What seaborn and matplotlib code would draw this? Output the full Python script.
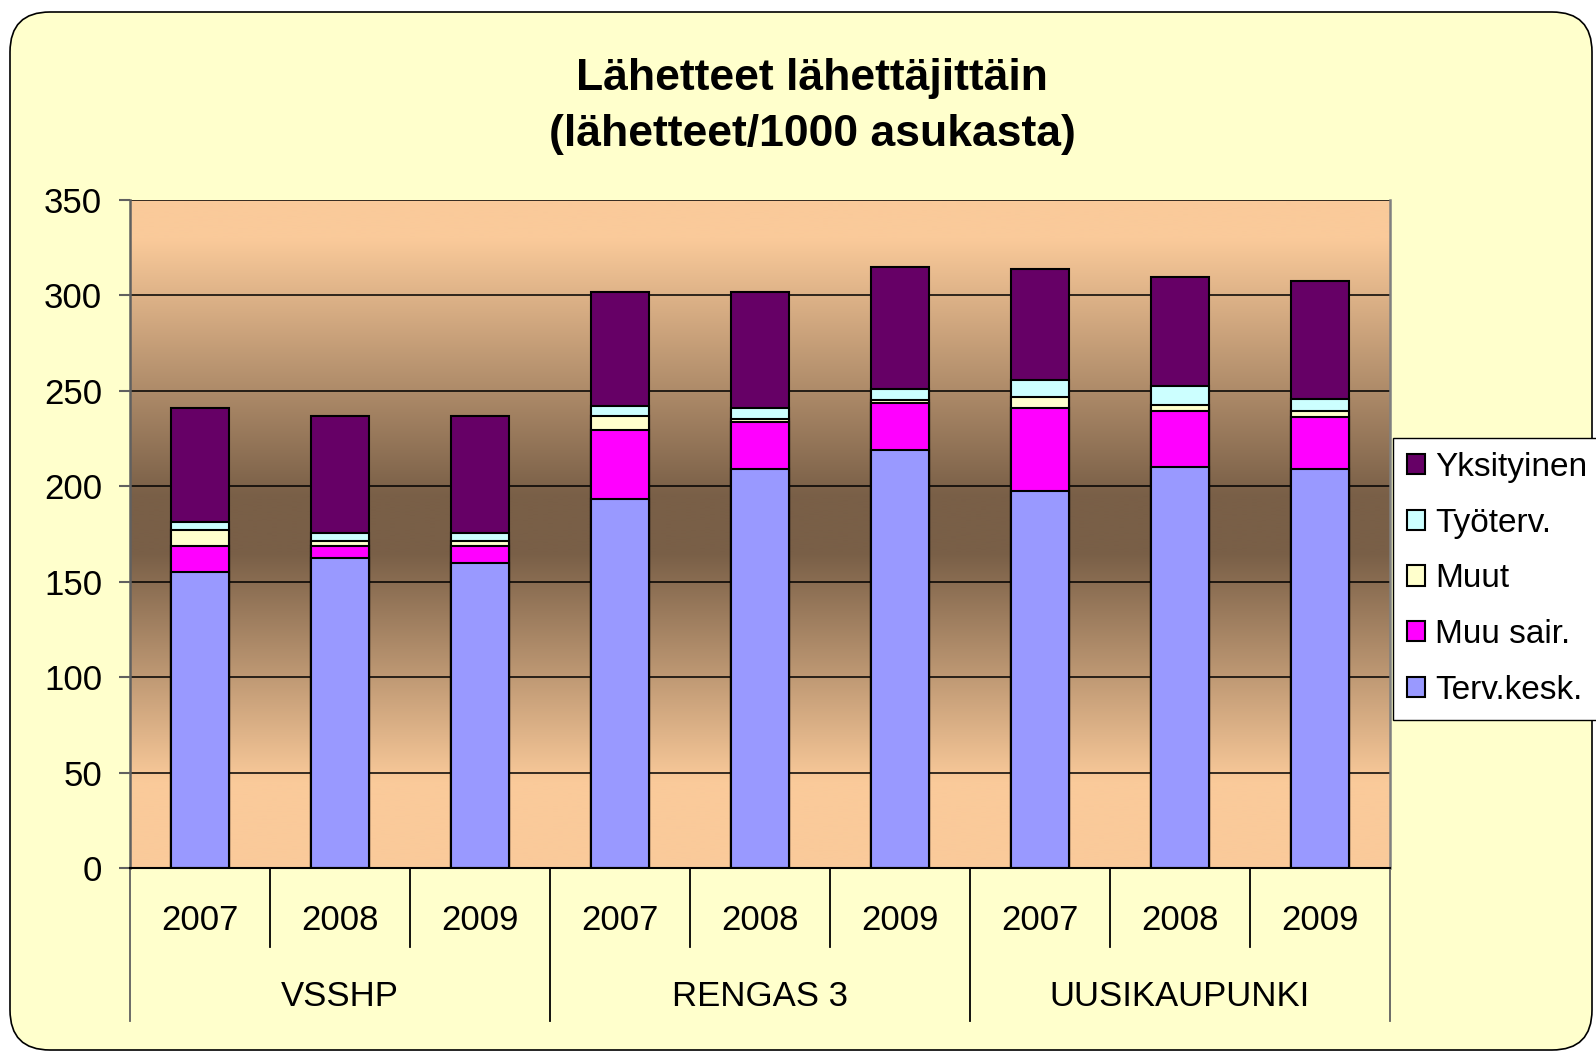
import matplotlib
matplotlib.use("Agg")
import matplotlib.pyplot as plt
from matplotlib.patches import FancyBboxPatch, Patch
import matplotlib.transforms as mtransforms
import seaborn as sns
import numpy as np

plt.rcParams['font.family'] = ['Liberation Sans', 'DejaVu Sans']

# data
groups = ["VSSHP", "RENGAS 3", "UUSIKAUPUNKI"]
years = ["2007", "2008", "2009"]
series = ["Terv.kesk.", "Muu sair.", "Muut", "Työterv.", "Yksityinen"]
colors = ["#9999FF", "#FF00FF", "#FFFFCC", "#CCFFFF", "#660066"]

terv_kesk = [155.2, 162.4, 159.8, 193.2, 209.0, 219.1, 197.3, 210.2, 208.8]
muu_sair = [13.3, 6.1, 8.7, 36.1, 24.8, 24.6, 43.8, 29.4, 27.6]
muut = [8.4, 2.8, 2.8, 7.3, 1.3, 1.5, 5.8, 3.1, 3.3]
tyoterv = [4.5, 4.3, 4.3, 5.6, 5.9, 5.9, 8.7, 9.9, 5.8]
yksityinen = [59.7, 61.2, 61.2, 59.7, 60.9, 63.9, 58.0, 56.8, 62.3]

yticks = [0, 50, 100, 150, 200, 250, 300, 350]

keys = [f"{g} {y}" for g in groups for y in years]
stack = np.array([terv_kesk, muu_sair, muut, tyoterv, yksityinen])
cum = np.cumsum(stack, axis=0)

W, H = 1596, 1053
fig = plt.figure(figsize=(W / 100, H / 100), dpi=100)
fig.patch.set_facecolor("white")

# rounded chart area
bg = fig.add_axes([0, 0, 1, 1], zorder=-10)
bg.set_xlim(0, W)
bg.set_ylim(H, 0)
bg.axis("off")
bg.add_patch(FancyBboxPatch((10, 12), W - 14, H - 15,
                            boxstyle="round,pad=0,rounding_size=40",
                            facecolor="#FFFFCC", edgecolor="black", linewidth=1.2))

ax = fig.add_axes([130 / W, (H - 868) / H, (1390 - 130) / W, 668 / H])

# plot area gradient
stops_v = [0, 45, 165, 195, 330, 350]
peach = np.array([250, 202, 154]) / 255
dark = np.array([121, 95, 71]) / 255
stops_c = [peach, peach, dark, dark, peach, peach]
vals = np.linspace(0, 350, 400)
grad = np.stack([np.interp(vals, stops_v, [c[i] for c in stops_c]) for i in range(3)], axis=-1)
ax.imshow(grad[:, None, :], origin="lower", aspect="auto",
          extent=(-0.5, len(keys) - 0.5, 0, 350), zorder=-2, interpolation="bilinear")

# stacked bars: draw cumulative totals from the top down
for i in range(len(series) - 1, -1, -1):
    sns.barplot(x=keys, y=cum[i], color=colors[i], saturation=1, width=0.41,
                edgecolor="black", linewidth=1.5, errorbar=None, ax=ax, zorder=2)

ax.set_xlim(-0.5, len(keys) - 0.5)
ax.set_ylim(0, 350)
ax.set_yticks(yticks)
ax.set_yticklabels([str(t) for t in yticks], fontsize=25)
ax.yaxis.grid(True, color="black", linewidth=1.1)
ax.set_axisbelow(True)
ax.tick_params(axis="y", length=8, width=1.5, color="#606060", pad=12)
ax.tick_params(axis="x", length=0, labelbottom=False)
ax.set_xlabel("")
ax.set_ylabel("")
ax.spines["top"].set_visible(False)
ax.spines["left"].set_color("#606060")
ax.spines["left"].set_linewidth(1.8)
ax.spines["right"].set_color("#808080")
ax.spines["right"].set_linewidth(1.8)
ax.spines["bottom"].set_color("black")
ax.spines["bottom"].set_linewidth(1.5)

# two-level category axis
trans = mtransforms.blended_transform_factory(ax.transData, ax.transAxes)
for i, k in enumerate(keys):
    ax.text(i, -0.078, years[i % 3], transform=trans, ha="center", va="center", fontsize=25)
for gi, g in enumerate(groups):
    ax.text(gi * 3 + 1, -0.192, g, transform=trans, ha="center", va="center", fontsize=25)
for b in range(len(keys) + 1):
    x = b - 0.5
    low = -0.229 if b % 3 == 0 else -0.118
    col = "#606060" if b in (0, len(keys)) else "black"
    ax.plot([x, x], [0, low], transform=trans, color=col, linewidth=1.3, clip_on=False)

# title
fig.text(0.509, 0.899, "Lähetteet lähettäjittäin\n(lähetteet/1000 asukasta)",
         ha="center", va="center", fontsize=32, fontweight="bold", linespacing=1.48)

# legend
handles = [Patch(facecolor=colors[i], edgecolor="black", linewidth=1.5, label=series[i])
           for i in range(len(series) - 1, -1, -1)]
leg = fig.legend(handles=handles, loc="upper left", bbox_to_anchor=(1393 / W, 1 - 438 / H),
                 bbox_transform=fig.transFigure, borderaxespad=0, fontsize=24,
                 handlelength=0.55, handleheight=0.55, handletextpad=0.3,
                 labelspacing=0.74, borderpad=0.42, fancybox=False, framealpha=1)
leg.get_frame().set_edgecolor("black")
leg.get_frame().set_linewidth(1.0)
leg.get_frame().set_facecolor("white")

fig.savefig("out.png", dpi=100)
